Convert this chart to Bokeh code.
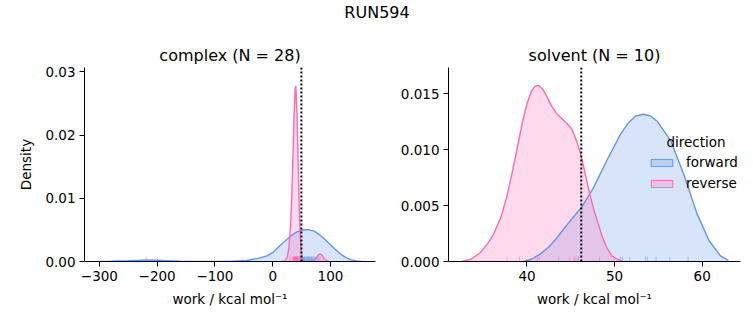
import numpy as np
from bokeh.plotting import figure
from bokeh.models import Span, Label, Legend, LegendItem, Range1d, FixedTicker
from bokeh.layouts import column, row
from bokeh.embed import file_html
from bokeh.resources import INLINE

FWD = "#6495ED"   # cornflowerblue
REV = "#FF69B4"   # hotpink
FONT = "DejaVu Sans"

suptitle = "RUN594"
titles = ["complex (N = 28)", "solvent (N = 10)"]
xlabel = "work / kcal mol\u207b\u00b9"
ylabel = "Density"
legend_title = "direction"
directions = ["forward", "reverse"]

# ---- complex phase: KDE curves (x in kcal/mol, density)
cx_fwd_x = [-303, -280, -250, -230, -220, -210, -190, -160, -130, -100, -70, -45, -25, -10, 0, 10, 21, 32, 42, 52, 62, 72, 80, 88, 96, 105, 117, 127, 136, 145, 155]
cx_fwd_d = [0.0, 0.00003, 0.00012, 0.0002, 0.00026, 0.00024, 0.00015, 0.00005, 0.00001, 0.00001, 0.00004, 0.00016, 0.0005, 0.0009, 0.0014, 0.0023, 0.0032, 0.0041, 0.0047, 0.00498, 0.00505, 0.0048, 0.0043, 0.0037, 0.003, 0.0022, 0.0012, 0.0006, 0.00025, 0.00007, 0.0]
cx_rev_x = [15, 21, 25, 28, 31, 33, 35, 37, 39, 40, 42, 44, 46, 48, 50, 53, 57, 62, 67, 72, 76, 79, 82, 85, 88, 92, 97]
cx_rev_d = [0.0, 0.0001, 0.0006, 0.0021, 0.0057, 0.0101, 0.0165, 0.0232, 0.0274, 0.0278, 0.0235, 0.0160, 0.0085, 0.0036, 0.0012, 0.0002, 0.00002, 0.0, 0.00003, 0.0002, 0.0006, 0.001, 0.0012, 0.001, 0.0006, 0.0002, 0.0]
cx_fwd_rug = [-219, 44, 47, 49, 50.5, 52, 53, 54.5, 55, 56, 57.5, 58, 59, 60.5, 61, 62, 63.5, 64, 65, 66.5, 67, 68, 69.5, 70, 72, 74, 77, 80]
cx_rev_rug = [30, 34, 35.5, 36, 36.5, 37, 37.5, 38, 38.3, 38.6, 39, 39.2, 39.5, 39.8, 40, 40.3, 40.6, 41, 41.4, 41.8, 42.3, 43, 43.5, 44, 45, 46, 48, 82]
cx_estimate = 49.7

# ---- solvent phase
sv_fwd_x = [39.6, 40.5, 41.5, 42.5, 43.4, 44.2, 45.0, 46.2, 47.6, 49.1, 50.7, 51.6, 52.4, 53.3, 54.1, 54.9, 56.4, 57.9, 59.4, 60.8, 62.1, 63.0]
sv_fwd_d = [0.0, 0.0002, 0.00066, 0.0013, 0.0021, 0.0029, 0.0037, 0.0048, 0.0066, 0.009, 0.0114, 0.0124, 0.0130, 0.01315, 0.0130, 0.0125, 0.0108, 0.0078, 0.0043, 0.00185, 0.0005, 0.0001]
sv_rev_x = [32.6, 33.6, 34.7, 35.5, 36.2, 37.0, 37.7, 38.3, 38.9, 39.5, 40.0, 40.5, 40.9, 41.3, 41.8, 42.3, 42.8, 43.4, 44.0, 44.6, 45.1, 45.6, 46.1, 46.6, 47.0, 47.5, 48.0, 48.6, 49.1, 49.7, 50.3, 51.0]
sv_rev_d = [0.0, 0.0002, 0.0008, 0.0016, 0.00245, 0.0039, 0.0058, 0.0079, 0.0102, 0.0125, 0.0141, 0.0152, 0.01565, 0.01574, 0.0154, 0.0147, 0.0139, 0.0132, 0.01276, 0.0123, 0.01186, 0.0109, 0.0097, 0.008, 0.0066, 0.005, 0.0037, 0.0022, 0.00125, 0.0005, 0.0002, 0.0]
sv_fwd_rug = [48.3, 50.66, 50.9, 51.73, 53.52, 53.75, 54.74, 56.3, 45.9, 58.4]
sv_rev_rug = [37.71, 39.15, 41.03, 41.21, 41.4, 43.62, 44.87, 45.4, 45.6, 45.83]
sv_estimate = 46.2

panels = [
    dict(title=titles[0], fx=cx_fwd_x, fd=cx_fwd_d, rx=cx_rev_x, rd=cx_rev_d,
         frug=cx_fwd_rug, rrug=cx_rev_rug, est=cx_estimate,
         xr=(-325.8, 178.0), yr=(0, 0.0307),
         xt=[-300, -200, -100, 0, 100], yt=[0, 0.01, 0.02, 0.03], yfmt="{:.2f}",
         bl=84, br=10, fw=291),
    dict(title=titles[1], fx=sv_fwd_x, fd=sv_fwd_d, rx=sv_rev_x, rd=sv_rev_d,
         frug=sv_fwd_rug, rrug=sv_rev_rug, est=sv_estimate,
         xr=(31.04, 64.38), yr=(0, 0.01733),
         xt=[40, 50, 60], yt=[0, 0.005, 0.010, 0.015], yfmt="{:.3f}",
         bl=63, br=13, fw=292),
]

nan = float("nan")
figs = []
for i, pn in enumerate(panels):
    p = figure(frame_width=pn["fw"], frame_height=194,
               min_border_left=pn["bl"], min_border_right=pn["br"],
               min_border_top=37, min_border_bottom=64,
               x_range=Range1d(*pn["xr"]), y_range=Range1d(*pn["yr"]),
               toolbar_location=None, output_backend="svg", title=pn["title"])
    p.outline_line_color = None
    p.grid.visible = False
    p.background_fill_color = "white"
    p.title.align = "center"
    p.title.text_font = FONT
    p.title.text_font_size = "16px"
    p.title.text_font_style = "normal"
    p.title.text_color = "black"
    p.title.standoff = 6
    for ax in [p.xaxis[0], p.yaxis[0]]:
        ax.axis_line_color = "black"
        ax.axis_line_width = 1
        ax.major_tick_line_color = "black"
        ax.major_tick_line_width = 1
        ax.major_tick_out = 5
        ax.major_tick_in = 0
        ax.minor_tick_line_color = None
        ax.major_label_text_font = FONT
        ax.major_label_text_font_size = "13.5px"
        ax.major_label_text_color = "black"
        ax.axis_label_text_font = FONT
        ax.axis_label_text_font_size = "13.5px"
        ax.axis_label_text_font_style = "normal"
        ax.axis_label_text_color = "black"
        ax.major_label_standoff = 4
    p.xaxis.ticker = FixedTicker(ticks=pn["xt"])
    p.xaxis.major_label_overrides = {t: (str(t).replace("-", "\u2212")) for t in pn["xt"]}
    p.yaxis.ticker = FixedTicker(ticks=pn["yt"])
    p.yaxis.major_label_overrides = {t: pn["yfmt"].format(t) for t in pn["yt"]}
    p.xaxis.axis_label = xlabel
    p.xaxis.axis_label_standoff = 7
    if i == 0:
        p.yaxis.axis_label = ylabel
        p.yaxis.axis_label_standoff = 8

    # fills and lines
    p.varea(x=pn["fx"], y1=0, y2=pn["fd"], fill_color=FWD, fill_alpha=0.25)
    p.varea(x=pn["rx"], y1=0, y2=pn["rd"], fill_color=REV, fill_alpha=0.25)
    p.line(pn["fx"], pn["fd"], line_color=FWD, line_width=1.4)
    p.line(pn["rx"], pn["rd"], line_color=REV, line_width=1.4)

    # rug
    rug_h = 0.025 * pn["yr"][1]
    p.segment(x0=pn["frug"], y0=0, x1=pn["frug"], y1=rug_h, line_color=FWD, line_alpha=0.5, line_width=1)
    p.segment(x0=pn["rrug"], y0=0, x1=pn["rrug"], y1=rug_h, line_color=REV, line_alpha=0.5, line_width=1)

    p.add_layout(Span(location=pn["est"], dimension="height", line_color="black",
                      line_dash="2 2", line_width=2))

    if i == 1:
        qf = p.quad(left=[nan], right=[nan], top=[nan], bottom=[nan], fill_color=FWD, fill_alpha=0.25,
                    line_color=FWD, line_width=1)
        qr = p.quad(left=[nan], right=[nan], top=[nan], bottom=[nan], fill_color=REV, fill_alpha=0.25,
                    line_color=REV, line_width=1)
        leg = Legend(items=[LegendItem(label=directions[0], renderers=[qf], index=0),
                            LegendItem(label=directions[1], renderers=[qr], index=0)],
                     location=(200, 68), padding=0, margin=0, spacing=1,
                     glyph_width=27, glyph_height=9, label_standoff=11,
                     label_height=20, label_text_font=FONT, label_text_font_size="13.5px",
                     label_text_color="black",
                     background_fill_alpha=0, border_line_alpha=0)
        p.add_layout(leg)
        p.add_layout(Label(x=55.92, y=0.01066, text=legend_title, text_font=FONT, text_color="black",
                           text_font_size="13.5px", text_baseline="middle", text_align="left"))
    figs.append(p)

tf = figure(width=753, height=30, x_range=Range1d(0, 1), y_range=Range1d(0, 1),
            toolbar_location=None, output_backend="svg",
            x_axis_location=None, y_axis_location=None, min_border=0)
tf.grid.visible = False
tf.outline_line_color = None
tf.add_layout(Label(x=0.5, y=0.6, text=suptitle, text_align="center", text_baseline="middle",
                    text_color="black", text_font=FONT, text_font_size="16px"))

layout = column(tf, row(*figs))
open("out.html", "w").write(file_html(layout, INLINE))
